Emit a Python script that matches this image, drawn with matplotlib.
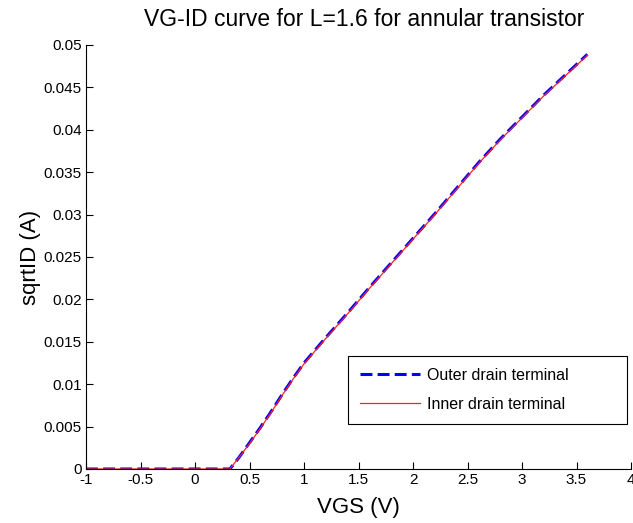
import matplotlib
matplotlib.use("Agg")
import matplotlib.pyplot as plt
from matplotlib.ticker import FuncFormatter

# VGS sweep (V) and sqrt(ID)
vgs = [-1.0, -0.5, 0.0, 0.32, 0.4, 0.5, 0.6, 0.7, 0.8, 0.9, 1.0, 1.2, 1.4,
       1.6, 1.8, 2.0, 2.2, 2.4, 2.6, 2.8, 3.0, 3.2, 3.4, 3.6]
outer_drain = [0.0, 0.0, 0.0, 0.0, 0.0013, 0.0031, 0.0049, 0.0068, 0.0088,
               0.0107, 0.0125, 0.0155, 0.0184, 0.0214, 0.0243, 0.0272,
               0.0301, 0.0331, 0.0361, 0.0389, 0.0415, 0.0441, 0.0465, 0.0489]
inner_drain = [0.0, 0.0, 0.0, 0.0, 0.0013, 0.0030, 0.0048, 0.0067, 0.0087,
               0.0106, 0.0124, 0.0154, 0.0183, 0.0213, 0.0242, 0.0271,
               0.0300, 0.0330, 0.0360, 0.0388, 0.0414, 0.0440, 0.0464, 0.0488]

xticks = [-1, -0.5, 0, 0.5, 1, 1.5, 2, 2.5, 3, 3.5, 4]
yticks = [0, 0.005, 0.01, 0.015, 0.02, 0.025, 0.03, 0.035, 0.04, 0.045, 0.05]

plt.rcParams['font.family'] = ['Liberation Sans', 'DejaVu Sans']

fig = plt.figure(figsize=(6.33, 5.23), dpi=100)
ax = fig.add_axes([86 / 633, 54 / 523, 545 / 633, 424 / 523])

ax.plot(vgs, outer_drain, color='blue', lw=2.2, dashes=(3.9, 1.7),
        label='Outer drain terminal')
ax.plot(vgs, inner_drain, color='#ff2020', lw=0.9, label='Inner drain terminal')

ax.set_xlim(-1, 4)
ax.set_ylim(0, 0.05)
ax.set_xticks(xticks)
ax.set_yticks(yticks)
fmt = FuncFormatter(lambda v, p: '%g' % v)
ax.xaxis.set_major_formatter(fmt)
ax.yaxis.set_major_formatter(fmt)
ax.tick_params(direction='in', length=5, width=0.8, labelsize=11, colors='black')
ax.tick_params(axis='x', pad=3)
ax.tick_params(axis='y', pad=3)
ax.spines['top'].set_visible(False)
ax.spines['right'].set_visible(False)

ax.set_xlabel('VGS (V)', fontsize=16, labelpad=7)
ax.set_ylabel('sqrtID (A)', fontsize=16, labelpad=2)
fig.text(364 / 633, 1 - 20 / 523, 'VG-ID curve for L=1.6 for annular transistor',
         fontsize=16.5, ha='center', va='center')

leg = ax.legend(loc='lower left', bbox_to_anchor=(348 / 633, 99 / 523, 279 / 633, 69 / 523),
                bbox_transform=fig.transFigure, mode='expand', fontsize=11.5,
                fancybox=False, edgecolor='black', framealpha=1,
                handlelength=3.75, handletextpad=0.45, borderpad=0.75,
                labelspacing=0.9, borderaxespad=0)
leg.get_frame().set_linewidth(0.8)

fig.savefig('out.png', dpi=100)
